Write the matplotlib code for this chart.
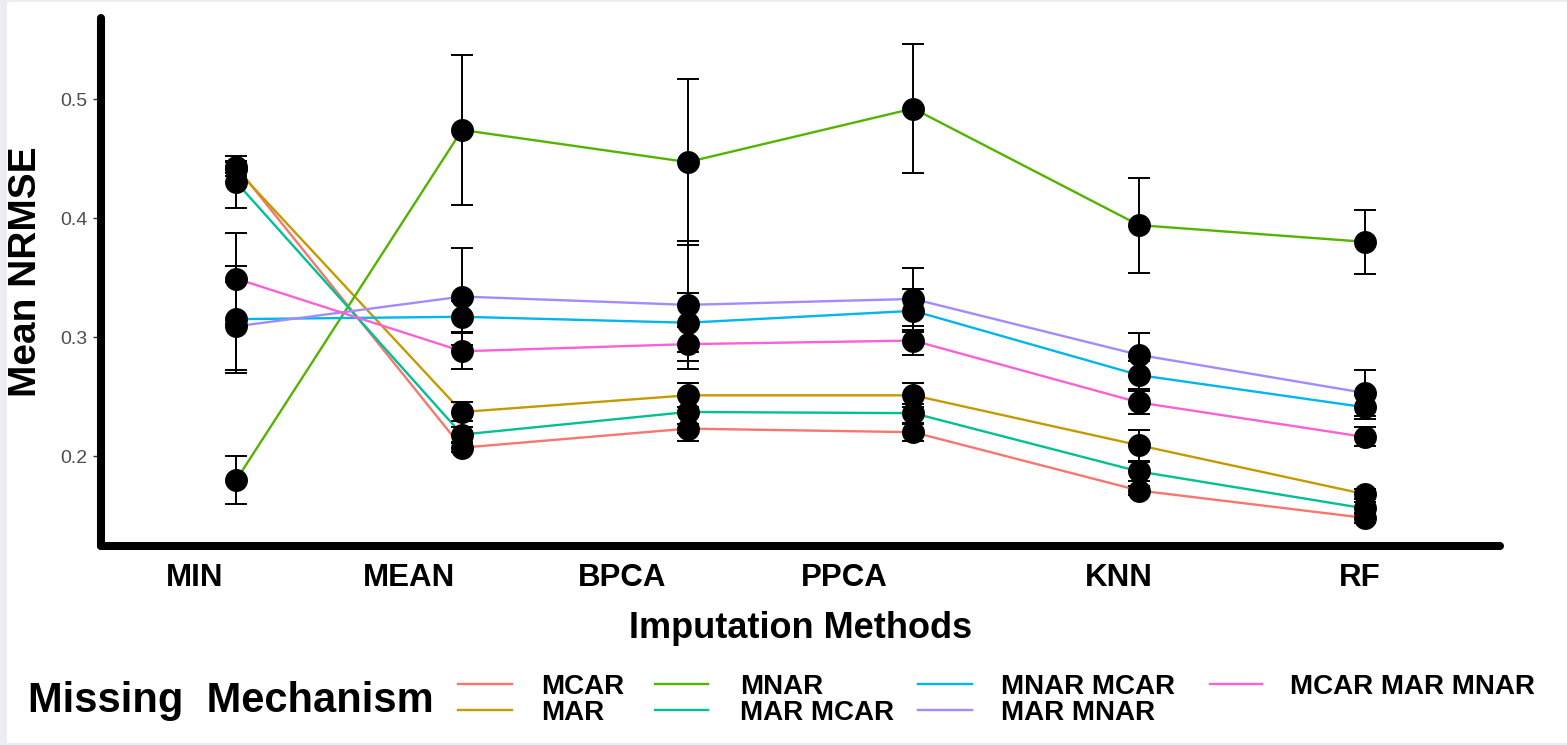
import matplotlib
matplotlib.use("Agg")
import matplotlib.pyplot as plt
from matplotlib.lines import Line2D
from matplotlib.patches import Rectangle
from matplotlib.transforms import ScaledTranslation
import numpy as np

# ---------------- data ----------------
methods = ["MIN", "MEAN", "BPCA", "PPCA", "KNN", "RF"]
series_names = ["MCAR", "MAR", "MNAR", "MAR MCAR", "MNAR MCAR", "MAR MNAR", "MCAR MAR MNAR"]
series_colors = ["#F8766D", "#C49A00", "#53B400", "#00C094", "#00B6EB", "#A58AFF", "#FB61D7"]

mcar = [0.443, 0.207, 0.223, 0.220, 0.171, 0.148]
mcar_err = [0.005, 0.004, 0.004, 0.007, 0.004, 0.004]
mar = [0.441, 0.237, 0.251, 0.251, 0.209, 0.168]
mar_err = [0.006, 0.008, 0.010, 0.010, 0.013, 0.004]
mnar = [0.180, 0.474, 0.447, 0.492, 0.394, 0.380]
mnar_err = [0.020, 0.063, 0.070, 0.054, 0.040, 0.027]
mar_mcar = [0.430, 0.218, 0.237, 0.236, 0.187, 0.156]
mar_mcar_err = [0.022, 0.006, 0.024, 0.008, 0.008, 0.005]
mnar_mcar = [0.315, 0.317, 0.312, 0.322, 0.268, 0.241]
mnar_mcar_err = [0.045, 0.013, 0.025, 0.018, 0.012, 0.010]
mar_mnar = [0.309, 0.334, 0.327, 0.332, 0.285, 0.253]
mar_mnar_err = [0.037, 0.041, 0.054, 0.026, 0.018, 0.019]
mcar_mar_mnar = [0.349, 0.288, 0.294, 0.297, 0.245, 0.216]
mcar_mar_mnar_err = [0.038, 0.015, 0.014, 0.012, 0.010, 0.008]

values = [mcar, mar, mnar, mar_mcar, mnar_mcar, mar_mnar, mcar_mar_mnar]
errors = [mcar_err, mar_err, mnar_err, mar_mcar_err, mnar_mcar_err, mar_mnar_err, mcar_mar_mnar_err]

yticks = [0.2, 0.3, 0.4, 0.5]
ytick_labels = ["0.2", "0.3", "0.4", "0.5"]

# ---------------- figure ----------------
W, H = 1567, 745
DPI = 100
FONT = ["Liberation Sans", "DejaVu Sans"]
plt.rcParams["font.family"] = FONT

fig = plt.figure(figsize=(W / DPI, H / DPI), dpi=DPI)
fig.patch.set_facecolor("#ECECF3")
fig.add_artist(Rectangle((7 / W, 2 / H), (W - 7) / W, (H - 4) / H,
                         transform=fig.transFigure, facecolor="white",
                         edgecolor="none", zorder=0))

def fx(px):
    return px / W

def fy(py):
    return 1 - py / H

ax_left, ax_right, ax_top, ax_bottom = 101, 1500, 18, 546
ax = fig.add_axes([fx(ax_left), fy(ax_bottom), (ax_right - ax_left) / W, (ax_bottom - ax_top) / H])
ax.set_facecolor("none")

x = np.arange(1, len(methods) + 1)

for vals, errs, col in zip(values, errors, series_colors):
    ax.plot(x, vals, color=col, lw=1.7, zorder=2, solid_capstyle="butt")
for vals, errs in zip(values, errors):
    ax.errorbar(x, vals, yerr=errs, fmt="none", ecolor="black", elinewidth=1.4,
                capsize=7.9, capthick=1.4, zorder=3)
for vals in values:
    ax.plot(x, vals, "o", color="black", ms=15.5, zorder=4, mec="black")

ax.set_xlim(0.4, 6.6)
ax.set_ylim(0.12437, 0.56807)

for s in ["top", "right"]:
    ax.spines[s].set_visible(False)
for s in ["left", "bottom"]:
    ax.spines[s].set_linewidth(5.8)
    ax.spines[s].set_color("black")
    ax.spines[s].set_capstyle("round")

ax.set_xticks(x)
ax.set_xticklabels(methods, fontsize=22.5, fontweight="bold", color="black")
ax.set_yticks(yticks)
ax.set_yticklabels(ytick_labels, fontsize=14, color="#4D4D4D")
ax.tick_params(axis="x", length=0, pad=12)
ax.tick_params(axis="y", length=6, width=1, color="#333333", pad=4)

# horizontal offsets of the x tick labels as seen in the reference (pixels)
label_shift_px = [-42, -53, -66, -69, -20, -5]
for lab, dx in zip(ax.get_xticklabels(), label_shift_px):
    lab.set_transform(lab.get_transform() + ScaledTranslation(dx / DPI, 0, fig.dpi_scale_trans))

ax.set_xlabel("Imputation Methods", fontsize=26, fontweight="bold", labelpad=13)
ax.set_ylabel("Mean NRMSE", fontsize=28, fontweight="bold")
ax.yaxis.set_label_coords((44 - ax_left) / (ax_right - ax_left),
                          (ax_bottom - 272) / (ax_bottom - ax_top))

# ---------------- legend ----------------
fig.text(fx(28), fy(712), "Missing  Mechanism", fontsize=30, fontweight="bold",
         ha="left", va="baseline")
key_x = [(458, 512), (655, 708), (918, 972), (1210, 1262)]
text_x = [541, 740, 1001, 1290]
row_y = [684, 710]
for i, (name, col) in enumerate(zip(series_names, series_colors)):
    c, r = divmod(i, 2)
    x0, x1 = key_x[c]
    fig.add_artist(Line2D([fx(x0), fx(x1)], [fy(row_y[r]), fy(row_y[r])],
                          transform=fig.transFigure, color=col, lw=1.7))
    fig.text(fx(text_x[c]), fy(row_y[r] + 10), name, fontsize=20, fontweight="bold",
             ha="left", va="baseline")

fig.savefig("out.png", dpi=DPI, facecolor=fig.get_facecolor())
